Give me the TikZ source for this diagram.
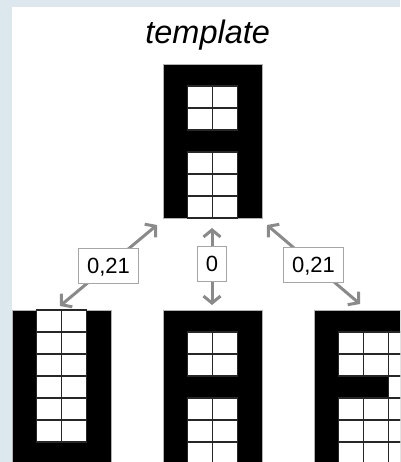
\documentclass[tikz,border=0pt]{standalone}
\usepackage{fontspec}
\setmainfont{Liberation Sans}
\usetikzlibrary{arrows.meta,calc}
\definecolor{bgblue}{HTML}{DDE8EE}
\definecolor{arrowgray}{HTML}{8A8A8A}

\tikzset{
  glyph/.style={draw=gray!60, line width=0.6pt, fill=black, minimum width=99pt,
    minimum height=154pt, inner sep=0pt, outer sep=0pt, anchor=north west},
  cellbox/.style={fill=white, draw=black!85, line width=1.1pt},
  link/.style={draw=arrowgray, line width=3pt,
    {Straight Barb[length=7pt,width=17pt]}-{Straight Barb[length=7pt,width=17pt]}},
  score/.style={draw=gray!70, line width=0.8pt, fill=white,
    font=\fontsize{22}{22}\selectfont, minimum height=35pt, inner xsep=8.5pt,
    text height=15.5pt, text depth=0pt}
}

% white pixel cells of a glyph, given as column/row pairs
\newcommand\glyphcells[2]{%
  \foreach \c/\r in {#2}
    \draw[cellbox] ($(#1.north west)+(\c*24.75,\r*22)$) rectangle ++(24.75,22);}

\begin{document}
\begin{tikzpicture}[x=1pt,y=-1pt]
  \useasboundingbox (0,0) rectangle (400,462);
  \clip (0,0) rectangle (400,462);
  \fill[bgblue] (0,0) rectangle (400,462);
  \fill[white] (12,7) rectangle (400,462);

  \node[font=\itshape\fontsize{32.5}{32.5}\selectfont, anchor=base] (title) at (207.7,43.5) {template};

  % template glyph
  \node[glyph] (tmpl) at (163,64) {};
  \glyphcells{tmpl}{1/1,2/1,1/2,2/2,1/4,2/4,1/5,2/5,1/6,2/6}

  % compared glyphs
  \node[glyph] (glyphU) at (12,310) {};
  \glyphcells{glyphU}{1/0,2/0,1/1,2/1,1/2,2/2,1/3,2/3,1/4,2/4,1/5,2/5}

  \node[glyph] (glyphA) at (163,310) {};
  \glyphcells{glyphA}{1/1,2/1,1/2,2/2,1/4,2/4,1/5,2/5,1/6,2/6}

  \node[glyph, minimum width=123.75pt] (glyphF) at (314,310) {};
  \glyphcells{glyphF}{1/1,2/1,3/1,1/2,2/2,3/2,3/3,1/4,2/4,3/4,1/5,2/5,3/5,1/6,2/6,3/6}

  % arrow end points
  \coordinate (l1) at ($(tmpl.south west)+(-6,7)$);
  \coordinate (l2) at ($(glyphU.north)+(-1.5,-4)$);
  \coordinate (m1) at ($(tmpl.south)+(-0.5,10)$);
  \coordinate (m2) at ($(glyphA.north)+(-0.5,-5)$);
  \coordinate (r1) at ($(tmpl.south east)+(5,7)$);
  \coordinate (r2) at ($(glyphF.north west)+(46,-6)$);

  \draw[link] (l1) -- node[score] (sl) {0,21} (l2);
  \draw[link] (m1) -- node[score, pos=0.47] (sm) {0} (m2);
  \draw[link] (r1) -- node[score] (sr) {0,21} (r2);
\end{tikzpicture}
\end{document}
